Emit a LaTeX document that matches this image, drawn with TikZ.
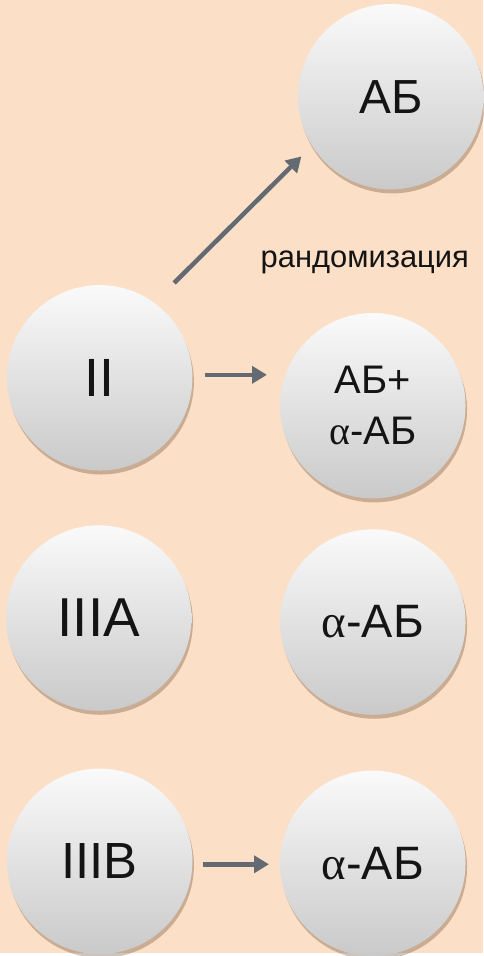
\documentclass[tikz,border=0pt]{standalone}
\usepackage{fontspec}
\setmainfont{Liberation Sans}
\newfontfamily\greekfont{Liberation Serif}
\usepackage{tikz}
\usepackage{xcolor}
\usetikzlibrary{arrows.meta}
\usetikzlibrary{shadows}

\definecolor{peach}{RGB}{251,223,198}
\definecolor{arrowgray}{RGB}{100,106,114}
\definecolor{ink}{RGB}{20,20,20}

\newcommand{\alab}{{\greekfont α}-АБ}

\begin{document}
\begin{tikzpicture}[x=1pt,y=-1pt,
        ball/.style={circle,minimum size=186pt,inner sep=0pt,text=ink,
            top color=black!2,bottom color=black!21,
            drop shadow={shadow xshift=1.5pt,shadow yshift=-4pt,opacity=.3,fill=brown!45!black}},
        arr/.style={-{Triangle[length=15pt,width=17pt]},line width=4.5pt,arrowgray}]
        \fill[peach] (0,0) rectangle (485,956);
        % top row
        \node[ball,font=\fontsize{48}{48}\selectfont] (ab) at (392,97) {АБ};
        \node[text=ink,font=\fontsize{31}{31}\selectfont] (rand) at (366,263) {рандомизация};
        % group II
        \node[ball,font=\fontsize{54}{54}\selectfont] (two) at (100,379) {II};
        \node[ball,align=center,font=\fontsize{40}{51}\selectfont] (mix) at (374,407) {АБ+\\\alab};
        % group IIIA
        \node[ball,font=\fontsize{55}{55}\selectfont] (threeA) at (99,620) {IIIA};
        \node[ball,font=\fontsize{47}{47}\selectfont] (alphaA) at (374,624) {\alab};
        % group IIIB
        \node[ball,font=\fontsize{51}{51}\selectfont] (threeB) at (100,864) {IIIB};
        \node[ball,font=\fontsize{47}{47}\selectfont] (alphaB) at (374,866) {\alab};
        % arrows
        \draw[arr,shorten <=28pt,shorten >=15pt] (two.54) -- (ab.212);
        \draw[arr,shorten <=12pt,shorten >=13pt] ([yshift=3pt]two.east) -- ([yshift=3pt]two.east -| mix.west);
        \draw[arr,shorten <=10pt,shorten >=11pt] ([yshift=-3pt]threeB.east) -- ([yshift=-3pt]threeB.east -| alphaB.west);
\end{tikzpicture}
\end{document}
